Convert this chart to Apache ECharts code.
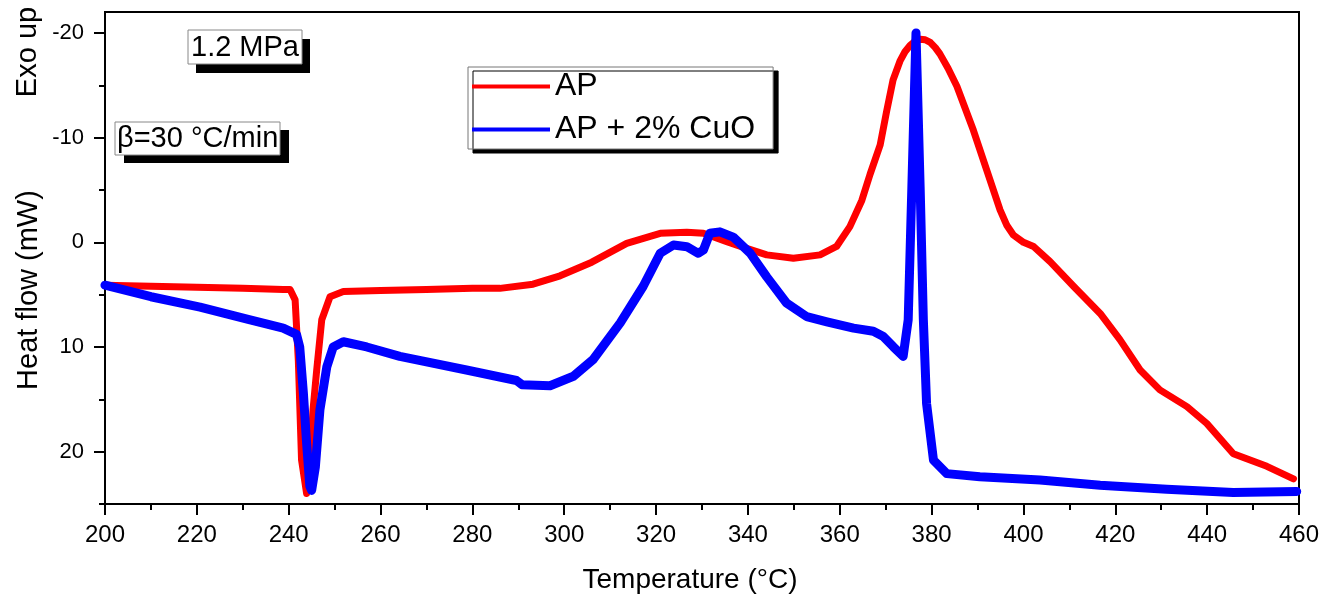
<!DOCTYPE html>
<html>
<head>
<meta charset="utf-8">
<script src="https://cdn.jsdelivr.net/npm/echarts@6/dist/echarts.min.js"></script>
<style>
html,body{margin:0;padding:0;background:#fff;}
#c{width:1324px;height:598px;}
</style>
</head>
<body>
<div id="c"></div>
<script>
// ---- data ----
const apT = [200,210,220,230,238.8,240.3,241.4,242.1,242.8,243.9,244.6,245.3,246.1,247.2,249,251.9,260,270,280,286,293.2,299.1,306,313.6,320.9,326.7,330.3,335.4,339.7,344.1,349.9,355.7,359.3,362.2,364.8,366.6,368.8,370.2,371.6,373.1,374.2,375.3,376.4,377.5,378.6,379.7,380.8,381.8,383.6,385.5,389.1,392,394.9,396.4,397.8,400,402.2,405.8,410.9,416.7,421,425.4,429.7,435.6,439.9,445.7,453,458.8];
const apV = [4.1,4.2,4.3,4.4,4.5,4.5,5.5,11.3,20.8,24.0,21.0,16,12.2,7.4,5.2,4.7,4.6,4.5,4.4,4.4,4.0,3.2,1.9,0.1,-0.86,-0.95,-0.86,-0.06,0.58,1.2,1.53,1.2,0.4,-1.5,-4.0,-6.5,-9.3,-12.5,-15.5,-17.3,-18.2,-18.8,-19.2,-19.4,-19.35,-19.1,-18.6,-18.0,-16.6,-14.9,-10.7,-6.9,-3.1,-1.6,-0.7,0.0,0.4,1.85,4.2,6.8,9.3,12.2,14.1,15.7,17.3,20.2,21.4,22.6];
const cuoT = [200,210,220.7,231.6,238.8,241.7,242.4,243.2,243.9,244.6,245.0,245.8,246.8,248.3,249.7,251.9,257,264.2,278.7,289.6,290.8,296.9,302,306.3,312.2,317.2,320.9,323.8,326.7,329.2,330.3,331.7,333.9,336.8,340.5,344.1,348.4,352.8,357.2,363,367.3,369.5,371.7,373.8,374.9,375.7,376.6,377.5,378.2,378.9,380.4,383.3,390.5,403.6,416.7,431.2,445.7,459.5];
const cuoV = [4.1,5.2,6.2,7.4,8.2,8.8,10.0,14.4,19.2,23.3,23.7,21.5,16,11.9,10.0,9.5,10.0,10.9,12.2,13.2,13.6,13.7,12.8,11.2,7.7,4.2,1.05,0.26,0.42,1.05,0.74,-0.86,-1.0,-0.5,1.05,3.3,5.8,7.1,7.6,8.2,8.5,9.0,10.0,10.9,7.4,-5.3,-20.0,-5.3,7.4,15.4,20.8,22.1,22.4,22.7,23.2,23.6,23.9,23.8];
const seriesNames = ['AP', 'AP + 2% CuO'];
const xMajor = [200, 220, 240, 260, 280, 300, 320, 340, 360, 380, 400, 420, 440, 460];
const xMinor = [210, 230, 250, 270, 290, 310, 330, 350, 370, 390, 410, 430, 450];
const xRange = {min: 200, max: 460};
const yMajor = [-20, -10, 0, 10, 20];
const yMinor = [-15, -5, 5, 15, 25];
const yRange = {min: -22, max: 25};

const pairs = (t, v) => t.map((x, i) => [x, v[i]]);
const FONT = 'Liberation Sans, Arial, sans-serif';
const tickStyle = {color: '#000', width: 2};

const chart = echarts.init(document.getElementById('c'), null, {renderer: 'canvas'});
chart.setOption({
  animation: false,
  backgroundColor: '#fff',
  grid: {left: 105, right: 25, top: 12, bottom: 94, show: true, borderColor: '#000', borderWidth: 2},
  legend: {
    orient: 'vertical', left: 468, top: 67,
    padding: [3, 18, 3, 4], itemGap: 10,
    itemWidth: 78, itemHeight: 4, icon: 'rect',
    backgroundColor: '#fff', borderColor: '#777', borderWidth: 1,
    shadowColor: '#000', shadowBlur: 0, shadowOffsetX: 5, shadowOffsetY: 4,
    textStyle: {fontSize: 32, fontFamily: FONT, color: '#000', lineHeight: 33},
    data: seriesNames
  },
  xAxis: [{
    type: 'value', min: xRange.min, max: xRange.max, position: 'bottom',
    axisLine: {onZero: false, lineStyle: {color: '#000', width: 2}},
    axisTick: {length: 11, inside: false, customValues: xMajor, lineStyle: tickStyle},
    axisLabel: {fontSize: 24, fontFamily: FONT, color: '#000', margin: 19, customValues: xMajor},
    splitLine: {show: false}
  }, {
    type: 'value', min: xRange.min, max: xRange.max, position: 'bottom',
    axisLine: {show: false, onZero: false},
    axisTick: {length: 6, inside: false, customValues: xMinor, lineStyle: tickStyle},
    axisLabel: {show: false},
    splitLine: {show: false}
  }],
  yAxis: [{
    type: 'value', inverse: true, min: yRange.min, max: yRange.max, position: 'left',
    axisLine: {onZero: false, lineStyle: {color: '#000', width: 2}},
    axisTick: {length: 11, inside: false, customValues: yMajor, lineStyle: tickStyle},
    axisLabel: {fontSize: 22, fontFamily: FONT, color: '#000', margin: 21, customValues: yMajor},
    splitLine: {show: false}
  }, {
    type: 'value', inverse: true, min: yRange.min, max: yRange.max, position: 'left',
    axisLine: {show: false, onZero: false},
    axisTick: {length: 6, inside: false, customValues: yMinor, lineStyle: tickStyle},
    axisLabel: {show: false},
    splitLine: {show: false}
  }],
  series: [{
    name: seriesNames[0], type: 'line', data: pairs(apT, apV),
    showSymbol: false, smooth: false,
    color: '#ff0000',
    lineStyle: {color: '#ff0000', width: 7, join: 'round', cap: 'round'}
  }, {
    name: seriesNames[1], type: 'line', data: pairs(cuoT, cuoV),
    showSymbol: false, smooth: false,
    color: '#0000ff',
    lineStyle: {color: '#0000ff', width: 9, join: 'round', cap: 'round'}
  }],
  graphic: [
    {type: 'rect', shape: {x: 196, y: 39, width: 114, height: 34}, style: {fill: '#000'}, z: 10},
    {type: 'rect', shape: {x: 188, y: 30, width: 114, height: 34}, style: {fill: '#fff', stroke: '#888', lineWidth: 1}, z: 11},
    {type: 'text', x: 245, y: 48, z: 12, style: {text: '1.2 MPa', font: '29px ' + FONT, fill: '#000', textAlign: 'center', textVerticalAlign: 'middle'}},
    {type: 'rect', shape: {x: 124, y: 130, width: 165, height: 33}, style: {fill: '#000'}, z: 10},
    {type: 'rect', shape: {x: 115, y: 122, width: 165, height: 33}, style: {fill: '#fff', stroke: '#888', lineWidth: 1}, z: 11},
    {type: 'text', x: 117, y: 139, z: 12, style: {text: 'β=30 °C/min', font: '29px ' + FONT, fill: '#000', textAlign: 'left', textVerticalAlign: 'middle'}},
    {type: 'text', x: 690, y: 580, style: {text: 'Temperature (°C)', font: '28px ' + FONT, fill: '#000', textAlign: 'center', textVerticalAlign: 'middle'}},
    {type: 'text', x: 29, y: 290, rotation: Math.PI / 2, style: {text: 'Heat flow (mW)', font: '29px ' + FONT, fill: '#000', textAlign: 'center', textVerticalAlign: 'middle'}},
    {type: 'text', x: 28, y: 52, rotation: Math.PI / 2, style: {text: 'Exo up', font: '29px ' + FONT, fill: '#000', textAlign: 'center', textVerticalAlign: 'middle'}}
  ]
});
</script>
</body>
</html>
